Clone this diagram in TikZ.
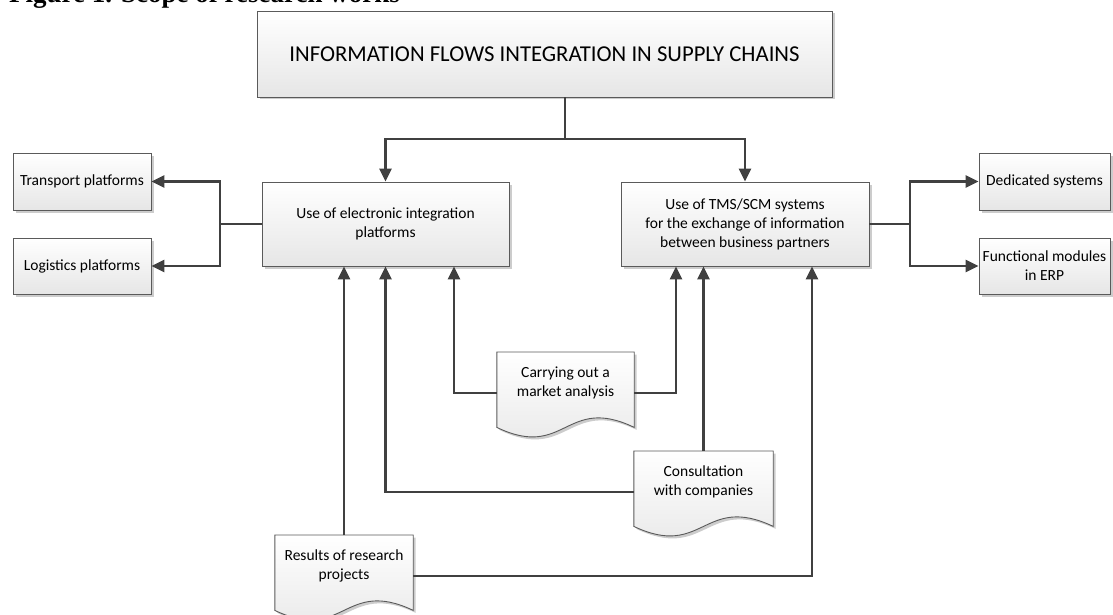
\documentclass[tikz,border=0pt]{standalone}
\usepackage{fontspec}
\setmainfont{Carlito}
\newfontfamily\figcapfamily{Liberation Serif}
\usetikzlibrary{arrows.meta,calc,shadows,backgrounds}

\definecolor{linecol}{HTML}{404040}
\definecolor{bordercol}{HTML}{5A5A5A}
\definecolor{fillbot}{HTML}{E6E6E6}
\definecolor{shadowcol}{HTML}{CCCCCC}

\newcommand\bodyfont{\fontsize{15.5}{19}\selectfont}
\newcommand\headfont{\fontsize{22.7}{26}\selectfont}
\newcommand\figcapfont{\figcapfamily\bfseries\fontsize{27pt}{30pt}\selectfont}

% outline of a "document" symbol: straight top and sides, wavy bottom edge
\newcommand\docpath[3]{($(#1.north west)+(#2,#3)$) -- ($(#1.north east)+(#2,#3)$)
  -- ($(#1.south east)+(#2,13+#3)$)
  .. controls ($(#1.south)+(#2,-20+#3)$) and ($(#1.south)+(#2,46+#3)$) ..
  ($(#1.south west)+(#2,13+#3)$) -- cycle}

\tikzset{
  box/.style={draw=bordercol, line width=0.9pt, top color=white, bottom color=fillbot,
    align=center, inner sep=0pt, font=\bodyfont,
    drop shadow={shadow xshift=2.5pt, shadow yshift=-2.5pt, fill=shadowcol, opacity=1}},
  docnode/.style={align=center, inner sep=0pt, font=\bodyfont, minimum height=62pt, anchor=north},
  docbody/.style={draw=bordercol, line width=0.9pt, top color=white, bottom color=fillbot},
  flow/.style={draw=linecol, line width=2.5pt, -{Triangle[length=13pt,width=12pt]}},
  link/.style={draw=linecol, line width=2.5pt},
}

\begin{document}
\begin{tikzpicture}[x=1pt, y=-1pt]
\useasboundingbox (0,0) rectangle (1113,615);
\clip (0,0) rectangle (1113,615);

% caption above the figure, running off the top edge
\node[font=\figcapfont, anchor=base west, inner sep=0pt]
  (caption) at (9,2.5) {Figure 1. Scope of research works};

% rectangular boxes
\node[box, font=\headfont, minimum width=575pt, minimum height=86pt] (title) at (544.5,54)
  {INFORMATION FLOWS INTEGRATION IN SUPPLY CHAINS};
\node[box, minimum width=247pt, minimum height=84pt] (lmain) at (385.5,224)
  {Use of electronic integration\\platforms};
\node[box, minimum width=248pt, minimum height=84pt] (rmain) at (745,224)
  {Use of TMS/SCM systems\\for the exchange of information\\between business partners};
\node[box, minimum width=138pt, minimum height=57pt] (transport) at (82,181.5) {Transport platforms};
\node[box, minimum width=138pt, minimum height=56pt] (logistics) at (82,266) {Logistics platforms};
\node[box, minimum width=131pt, minimum height=57pt] (dedicated) at (1044.5,181.5) {Dedicated systems};
\node[box, minimum width=131pt, minimum height=56pt] (functional) at (1044.5,266) {Functional modules\\in ERP};

% document symbols
\node[docnode, minimum width=137pt] (mkt) at (565.5,352) {Carrying out a\\market analysis};
\node[docnode, minimum width=139pt] (cons) at (703.5,451) {Consultation\\with companies};
\node[docnode, minimum width=138pt] (res) at (344,535) {Results of research\\projects};
\begin{scope}[on background layer]
  \foreach \d in {mkt,cons,res}{
    \fill[shadowcol] \docpath{\d}{2.5}{2.5};
    \path[docbody] \docpath{\d}{0}{0};
  }
\end{scope}

% junction points
\coordinate (hub) at (565,139);
\coordinate (lsplit) at (220,224);
\coordinate (rsplit) at (910,224);

% top-down connectors
\draw[link] (title.south -| hub) -- (hub);
\draw[flow] (hub) -| (lmain.north);
\draw[flow] (hub) -| (rmain.north);

% side branches
\draw[link] (lmain.west) -- (lsplit);
\draw[flow] (lsplit) |- (transport.east);
\draw[flow] (lsplit) |- (logistics.east);
\draw[link] (rmain.east) -- (rsplit);
\draw[flow] (rsplit) |- (dedicated.west);
\draw[flow] (rsplit) |- (functional.west);

% inputs from the documents
\draw[flow] ($(mkt.west)+(0,10)$) -| ([xshift=68.5pt]lmain.south);
\draw[flow] ($(mkt.east)+(0,10)$) -| ([xshift=-69pt]rmain.south);
\draw[flow] (cons.north) -- (cons.north |- rmain.south);
\draw[flow] ($(cons.west)+(0,10)$) -| (lmain.south);
\draw[flow] (res.north) -- (res.north |- lmain.south);
\draw[flow] ($(res.east)+(0,10)$) -| ([xshift=67pt]rmain.south);
\end{tikzpicture}
\end{document}
